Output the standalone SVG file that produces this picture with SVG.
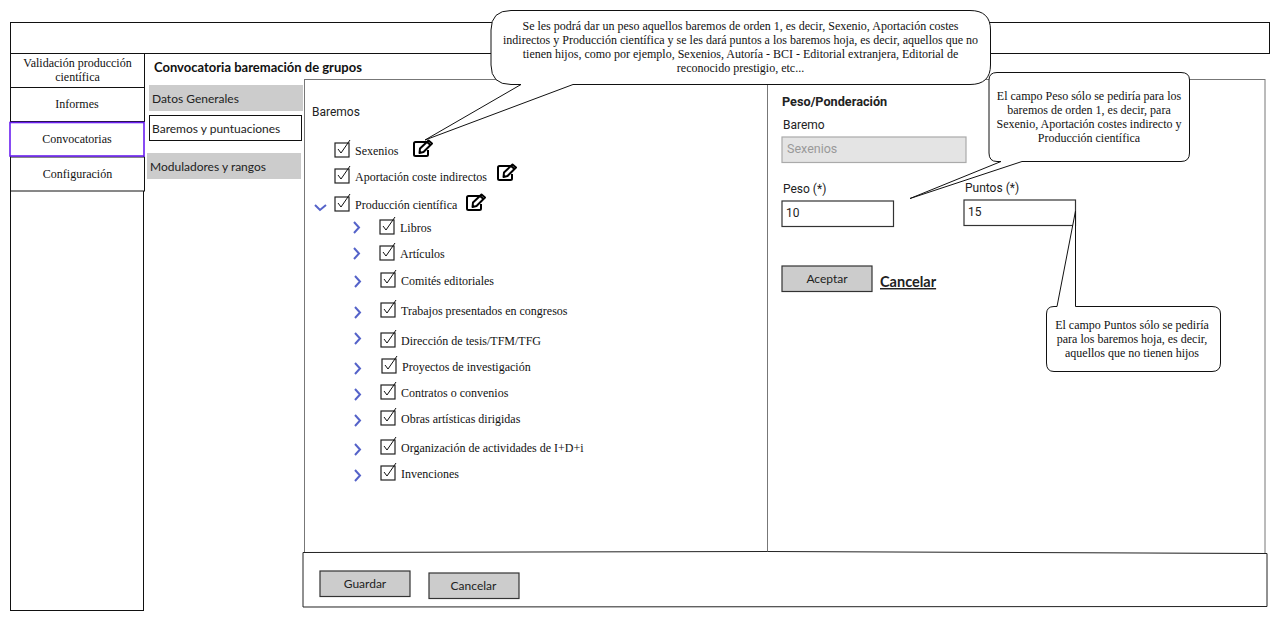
<svg xmlns="http://www.w3.org/2000/svg" width="1280" height="621" viewBox="0 0 1280 621">
<style>
.ln{fill:none;stroke:#111;stroke-width:1}
.box{fill:#fff;stroke:#111;stroke-width:1}
.gline{fill:none;stroke:#777;stroke-width:1}
.btn{fill:#ccc;stroke:#333;stroke-width:1.200}
.s{font-family:"Liberation Serif",serif;font-size:12px;fill:#111}
.m{text-anchor:middle}
.la{font-family:Lato,sans-serif;font-size:12px;fill:#222}
.rb{font-family:Roboto,sans-serif;font-size:12px;fill:#222}
.cb{fill:none;stroke:#222;stroke-width:1.200}
.ck{fill:none;stroke:#111;stroke-width:1}
.chev{fill:none;stroke:#5563c9;stroke-width:2}
.ic{fill:none;stroke:#000;stroke-width:2;stroke-linejoin:round}
.call{fill:#fff;stroke:#111;stroke-width:1}
</style>
<defs>
<g id="cb"><rect class="cb" x="0" y="1" width="14" height="14"/><path class="ck" d="M3 7L6 11L15 -2"/></g>
<g id="pen"><path class="ic" d="M14 3H2.500Q1 3 1 4.500V15.500Q1 17 2.500 17H13.500Q15 17 15 15.500V11"/><path class="ic" d="M7 9.500L15.500 1.500L19 4.500L10.500 13L6.500 14Z"/><path class="ic" d="M14 3L17.500 6"/></g>
</defs>

<g id="frame-top"><rect class="box" x="10.500" y="22.500" width="1259" height="31"/></g>

<g id="main-panel"><rect class="gline" x="304.500" y="79.500" width="960.500" height="474" fill="#fff"/><path class="gline" d="M767.500 80V553"/></g>

<g id="sidebar">
<rect class="box" x="10.500" y="53.500" width="133" height="557"/>
<g id="nav-validacion"><rect class="box" x="10.500" y="53.500" width="134" height="34"/><text class="s m" x="77.500" y="67">Validación producción</text><text class="s m" x="77.500" y="81">científica</text></g>
<g id="nav-informes"><rect class="box" x="10.500" y="87.500" width="134" height="34"/><text class="s m" x="77" y="108">Informes</text></g>
<g id="nav-configuracion"><rect class="box" x="10.500" y="157" width="134" height="34"/><text class="s m" x="77.500" y="178">Configuración</text></g>
<g id="nav-convocatorias"><rect x="10" y="122.500" width="134" height="33.500" fill="#fff" stroke="#6a1ff0" stroke-width="1.600"/><text class="s m" x="77" y="143">Convocatorias</text></g>
</g>

<text x="154" y="72" font-family="Lato,sans-serif" font-size="13" font-weight="700" fill="#111">Convocatoria baremación de grupos</text>

<g id="tab-datos"><rect x="149" y="85" width="154" height="26" fill="#ccc"/><text class="la" x="152" y="103">Datos Generales</text></g>
<g id="tab-baremos"><rect x="149.500" y="115.500" width="152" height="25" fill="#fff" stroke="#111"/><text class="la" x="152" y="133">Baremos y puntuaciones</text></g>
<g id="tab-moduladores"><rect x="147" y="153" width="154" height="26" fill="#ccc"/><text class="la" x="150" y="171">Moduladores y rangos</text></g>

<text class="rb" x="312" y="116">Baremos</text>

<g id="tree">
<use href="#cb" x="335" y="142"/><text class="s" x="355" y="155">Sexenios</text><use href="#pen" x="413" y="139"/>
<use href="#cb" x="335" y="168"/><text class="s" x="355" y="181">Aportación coste indirectos</text><use href="#pen" x="497" y="163"/>
<path class="chev" d="M315 205L320 210L326 205"/>
<use href="#cb" x="335" y="196"/><text class="s" x="355" y="209">Producción científica</text><use href="#pen" x="466" y="193"/>
<path class="chev" d="M354 222L359 227.500L354 233"/><use href="#cb" x="380" y="219"/><text class="s" x="400" y="232">Libros</text>
<path class="chev" d="M354 248L359 253.500L354 259"/><use href="#cb" x="380" y="245"/><text class="s" x="400" y="258">Artículos</text>
<path class="chev" d="M355 276L360 281.500L355 287"/><use href="#cb" x="381" y="272"/><text class="s" x="401" y="285">Comités editoriales</text>
<path class="chev" d="M355 307L360 312.500L355 318"/><use href="#cb" x="381" y="302"/><text class="s" x="401" y="315">Trabajos presentados en congresos</text>
<path class="chev" d="M355 333L360 338.500L355 344"/><use href="#cb" x="381" y="332"/><text class="s" x="401" y="345">Dirección de tesis/TFM/TFG</text>
<path class="chev" d="M355 363L360 368.500L355 374"/><use href="#cb" x="382" y="358"/><text class="s" x="402" y="371">Proyectos de investigación</text>
<path class="chev" d="M355 389L360 394.500L355 400"/><use href="#cb" x="381" y="384"/><text class="s" x="401" y="397">Contratos o convenios</text>
<path class="chev" d="M355 415L360 420.500L355 426"/><use href="#cb" x="381" y="410"/><text class="s" x="401" y="423">Obras artísticas dirigidas</text>
<path class="chev" d="M355 444L360 449.500L355 455"/><use href="#cb" x="381" y="439"/><text class="s" x="401" y="452">Organización de actividades de I+D+i</text>
<path class="chev" d="M355 470L360 475.500L355 481"/><use href="#cb" x="381" y="465"/><text class="s" x="401" y="478">Invenciones</text>
</g>

<g id="form">
<text x="782" y="106" font-family="Roboto,sans-serif" font-size="12.700" font-weight="700" fill="#222">Peso/Ponderación</text>
<text class="rb" x="783" y="129">Baremo</text>
<rect x="782" y="137" width="184" height="25.500" fill="#e4e4e4" stroke="#aaa" stroke-width="1.200"/>
<text x="787" y="153" font-family="Roboto,sans-serif" font-size="12.500" fill="#999">Sexenios</text>
<text class="rb" x="783" y="193">Peso (*)</text>
<rect x="782" y="201" width="111.500" height="25.500" fill="#fff" stroke="#333" stroke-width="1.200"/>
<text class="rb" x="786" y="217">10</text>
<text class="rb" x="965" y="192">Puntos (*)</text>
<rect x="964" y="200" width="111.500" height="25.500" fill="#fff" stroke="#333" stroke-width="1.200"/>
<text class="rb" x="968" y="216">15</text>
<g id="btn-aceptar"><rect class="btn" x="782" y="266" width="90" height="25.500"/><text class="la m" x="827" y="283" font-size="11.500">Aceptar</text></g>
<text id="link-cancelar" x="880" y="287" font-family="Lato,sans-serif" font-size="14.500" font-weight="700" fill="#222" text-decoration="underline">Cancelar</text>
</g>

<g id="footer">
<path d="M303 552.500L767.500 551.500L1267 553.500V606.500L303 607Z" fill="#fff" stroke="#222"/>
<g id="btn-guardar"><rect class="btn" x="320" y="571" width="90" height="25.500"/><text class="la m" x="365" y="588">Guardar</text></g>
<g id="btn-cancelar"><rect class="btn" x="429" y="573" width="90" height="25.500"/><text class="la m" x="473.500" y="590">Cancelar</text></g>
</g>

<g id="connectors">
<g id="callout-orden"><path class="call" d="M511 10.500H970Q990.500 10.500 990.500 30V65Q990.500 84.500 970 84.500H573L425 140L521 84.500H511Q491 84.500 491 65V30Q491 10.500 511 10.500Z"/>
<text class="s m" x="740.500" y="30">Se les podrá dar un peso aquellos baremos de orden 1, es decir, Sexenio, Aportación costes</text>
<text class="s m" x="740.500" y="44">indirectos y Producción científica y se les dará puntos a los baremos hoja, es decir, aquellos que no</text>
<text class="s m" x="740.500" y="58">tienen hijos, como por ejemplo, Sexenios, Autoría - BCI - Editorial extranjera, Editorial de</text>
<text class="s m" x="740.500" y="72">reconocido prestigio, etc...</text></g>
<g id="callout-peso"><path class="call" d="M997 72.500H1181Q1189.500 72.500 1189.500 80V153Q1189.500 161.500 1181 161.500H1022L910 198.500L1001 161.500H997Q989 161.500 989 153V80Q989 72.500 997 72.500Z"/>
<text class="s m" x="1089" y="100">El campo Peso sólo se pediría para los</text>
<text class="s m" x="1089" y="114">baremos de orden 1, es decir, para</text>
<text class="s m" x="1089" y="128">Sexenio, Aportación costes indirecto y</text>
<text class="s m" x="1089" y="142">Producción científica</text></g>
<g id="callout-puntos"><path class="call" d="M1054 306.500H1057L1075.500 211L1075.500 306.500H1212Q1220.500 306.500 1220.500 314V363Q1220.500 371.500 1212 371.500H1054Q1046.500 371.500 1046.500 363V314Q1046.500 306.500 1054 306.500Z"/>
<text class="s m" x="1132" y="329">El campo Puntos sólo se pediría</text>
<text class="s m" x="1132" y="343">para los baremos hoja, es decir,</text>
<text class="s m" x="1132" y="357">aquellos que no tienen hijos</text></g>
</g>
</svg>
